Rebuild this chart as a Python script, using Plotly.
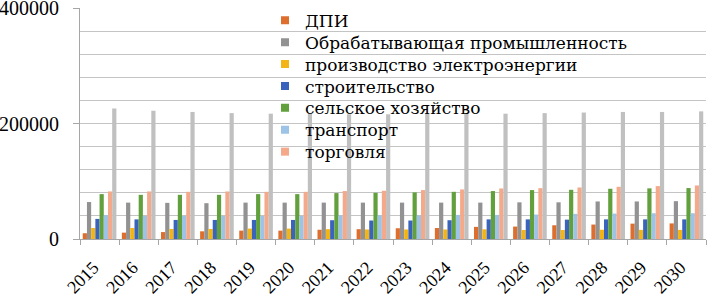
import plotly.graph_objects as go

years = [str(y) for y in range(2015, 2031)]

dpi = [10000, 11000, 12000, 13300, 14500, 14500, 16000, 17000, 18600, 19000, 21000, 21500, 23800, 25000, 26600, 27000]
obrab = [64000, 63000, 62600, 62000, 63000, 63000, 63000, 63000, 63000, 63000, 63000, 63500, 63500, 65000, 65000, 65500]
elektro = [19000, 19000, 17400, 17400, 18000, 18000, 17000, 16500, 16500, 16500, 16800, 15600, 15600, 16000, 15800, 15800]
stroit = [34800, 34000, 33000, 33000, 33000, 33000, 32500, 32000, 32000, 32500, 34000, 34000, 33500, 34000, 34000, 34000]
selhoz = [77700, 76500, 76500, 76500, 77700, 77700, 79500, 80000, 80700, 81700, 83000, 84700, 85200, 87000, 87700, 88200]
transport = [41200, 40000, 40000, 40000, 40000, 40000, 41000, 41000, 41000, 41700, 41700, 42300, 43500, 44000, 44600, 44600]
torgovlya = [82300, 82300, 81700, 82300, 81700, 81700, 83000, 83500, 84700, 85800, 87500, 88000, 89200, 90400, 91600, 92700]
total_other = [226000, 222000, 220000, 218000, 217000, 217000, 216000, 216000, 217000, 217000, 217000, 218000, 219000, 220000, 220000, 221000]

series = [
    ("ДПИ", dpi, "#DE6E2E", True),
    ("Обрабатывающая промышленность", obrab, "#929292", True),
    ("производство электроэнергии", elektro, "#F3B416", True),
    ("строительство", stroit, "#3A64BC", True),
    ("сельское хозяйство", selhoz, "#62A03D", True),
    ("транспорт", transport, "#9DC3E6", True),
    ("торговля", torgovlya, "#F3A98A", True),
    ("прочее", total_other, "#C0C0C0", False),
]

SERIF = "serif"
LEGEND_FONT = "DejaVu Serif"
PLOT_TOP, PLOT_BOTTOM = 8, 239
ROW0, ROWSTEP = 20.7, 21.9
LEG_LEFT_PX = 265

fig = go.Figure()
legend_layouts = {}
for i, (name, vals, color, show) in enumerate(series):
    fig.add_trace(go.Bar(x=years, y=vals, name=name, legendgroup=name,
                         marker=dict(color=color, line=dict(width=0)), showlegend=False))
for i, (name, vals, color, show) in enumerate(series):
    if not show:
        continue
    lname = "legend" if i == 0 else f"legend{i + 1}"
    # legend key only (small square like the original)
    fig.add_trace(go.Scatter(x=[None], y=[None], mode="markers", name=name, legendgroup=name,
                             marker=dict(symbol="square", size=8, color=color),
                             showlegend=True, legend=lname))
    yc = ROW0 + ROWSTEP * i
    legend_layouts[lname] = dict(
        x=(LEG_LEFT_PX - 80) / 626, y=(PLOT_BOTTOM - yc) / (PLOT_BOTTOM - PLOT_TOP),
        xanchor="left", yanchor="middle", bgcolor="rgba(0,0,0,0)",
        font=dict(family=LEGEND_FONT, size=17, color="black"), borderwidth=0,
    )

fig.update_layout(
    width=707, height=296,
    margin=dict(l=80, r=1, t=PLOT_TOP, b=296 - PLOT_BOTTOM, autoexpand=False),
    paper_bgcolor="white", plot_bgcolor="white",
    barmode="group", bargap=0.14, bargroupgap=0,
    font=dict(family=SERIF, size=20, color="black"),
    showlegend=True,
    xaxis=dict(type="category", showline=True, linecolor="#A6A6A6", linewidth=1,
               ticks="outside", tickson="boundaries", ticklen=5, tickcolor="#A6A6A6",
               tickangle=-45, tickfont=dict(family=SERIF, size=18), showgrid=False,
               ticklabelshift=-6, ticklabelstandoff=10, automargin=False),
    yaxis=dict(range=[0, 400000], tickvals=[0, 200000, 400000], ticktext=["0", "200000", "400000"],
               showline=True, linecolor="#A6A6A6", linewidth=1,
               ticks="outside", ticklen=6, tickcolor="#A6A6A6",
               showgrid=True, gridcolor="#C4C4C4", gridwidth=1,
               minor=dict(dtick=40000, tick0=0, showgrid=True, gridcolor="#C4C4C4", gridwidth=1),
               tickfont=dict(family=SERIF, size=20), zeroline=False, ticklabelstandoff=10,
               ticklabeloverflow="allow", automargin=False),
    **legend_layouts,
)

fig.write_html("out.html", config={"displayModeBar": False},
               post_script="document.body.style.margin='0';")
